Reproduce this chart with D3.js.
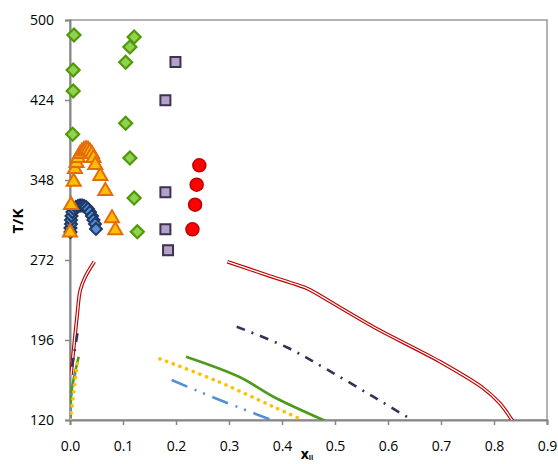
<!DOCTYPE html>
<html><head><meta charset="utf-8">
<script src="https://cdn.jsdelivr.net/npm/d3@7"></script>
<style>
html,body{margin:0;padding:0;background:#fff;}
svg text{font-family:"Open Sans","Noto Sans",sans-serif;}
</style></head>
<body>
<script>
// ---- data ----
const xTicks = [0, 0.1, 0.2, 0.3, 0.4, 0.5, 0.6, 0.7, 0.8, 0.9];
const yTicks = [120, 196, 272, 348, 424, 500];

const greenDiamonds = [[0.0075,485.8],[0.121,483.9],[0.113,474.4],[0.105,459.8],[0.006,452.5],[0.006,432.6],[0.105,401.9],[0.005,391.4],[0.113,368.9],[0.121,330.9],[0.127,298.9]];
const purpleSquares = [[0.199,460.1],[0.180,423.7],[0.180,336.3],[0.180,301.2],[0.185,281.2]];
const redCircles = [[0.244,362.0],[0.239,343.5],[0.236,324.5],[0.231,301.2]];
const orangeTriangles = [[0.000,299.0],[0.002,325.2],[0.007,347.3],[0.0094,359.4],[0.0123,365.1],[0.0151,369.9],[0.0189,373.7],[0.0226,376.0],[0.0264,377.5],[0.0302,378.1],[0.034,377.6],[0.0377,376.0],[0.0415,373.7],[0.0443,369.9],[0.0477,363.2],[0.0572,352.8],[0.0666,338.5],[0.0792,312.6],[0.0855,301.2]];
const blueDiamonds = [[0.0009,298.6],[0.0009,302.4],[0.0019,306.2],[0.0019,310.0],[0.0028,313.8],[0.0047,317.6],[0.0075,320.5],[0.0113,322.4],[0.0151,323.3],[0.0189,323.8],[0.0226,323.8],[0.0264,323.3],[0.0302,322.4],[0.034,320.5],[0.0377,317.6],[0.0415,313.8],[0.0443,310.0],[0.0472,306.2],[0.049,301.5]];

const redLine = [[0.002,163.0],[0.0132,218.1],[0.0194,243.5],[0.0289,256.1],[0.0458,270.4], null, [0.2968,270.4],[0.371,257.8],[0.447,245.1],[0.459,241.9],[0.572,208.6],[0.698,175.4],[0.780,150.1],[0.811,135.9],[0.836,118.4]];
const navyLine = [[0.0038,170.6],[0.0151,205.5], null, [0.3145,208.6],[0.4088,189.1],[0.4843,168.2],[0.5723,142.1],[0.6477,119.3]];
const greenLine = [[0.001,120],[0.0025,145.7],[0.0164,180.1], null, [0.2189,180.1],[0.3208,160.6],[0.3836,142.1],[0.4811,119.3]];
const yellowLine = [[0.0006,120],[0.0151,178.9], null, [0.1698,178.0],[0.2767,157.1],[0.3836,132.6],[0.4353,120.7]];
const blueLine = [[0.001,120],[0.0025,142.1],[0.01,164.4], null, [0.1918,158.0],[0.2767,140.2],[0.3836,119.3]];

// ---- chart ----
const W = 558, H = 464;
const L = 70, R = 547, T = 20, B = 420;
const svg = d3.select("body").append("svg").attr("width", W).attr("height", H);
const x = d3.scaleLinear().domain([0, 0.9]).range([L, R]);
const y = d3.scaleLinear().domain([120, 500]).range([B, T]);

svg.append("defs").append("clipPath").attr("id","clip")
  .append("rect").attr("x", L).attr("y", T).attr("width", R-L).attr("height", B-T);

// plot border
svg.append("rect").attr("x", L).attr("y", T).attr("width", R-L).attr("height", B-T)
  .attr("fill","none").attr("stroke","#9a9a9a").attr("stroke-width",1.5);

const xAxis = svg.append("g").attr("transform",`translate(0,${B})`)
  .call(d3.axisBottom(x).tickValues(xTicks).tickFormat(d3.format(".1f")).tickSize(5).tickPadding(16));
const yAxis = svg.append("g").attr("transform",`translate(${L},0)`)
  .call(d3.axisLeft(y).tickValues(yTicks).tickSize(5).tickPadding(11));
[xAxis, yAxis].forEach(g => {
  g.select(".domain").attr("stroke","#868686").attr("stroke-width",2);
  g.selectAll(".tick line").attr("stroke","#868686").attr("stroke-width",1.5);
  g.selectAll(".tick text").attr("fill","#000").style("font-size","14px")
   .style("font-family",'"Open Sans","Noto Sans",sans-serif');
});

// axis titles
svg.append("text").attr("transform","translate(23,221) rotate(-90)")
  .attr("text-anchor","middle").style("font-size","15px").style("font-weight","bold").text("T/K");
const xt = svg.append("text").attr("x", 307).attr("y", 459).attr("text-anchor","middle")
  .style("font-size","14px").style("font-weight","bold");
xt.append("tspan").text("x");
xt.append("tspan").attr("dy", 1).style("font-size","7px").text("II");

// lines
const line = d3.line().defined(d => d != null).x(d => x(d[0])).y(d => y(d[1])).curve(d3.curveCatmullRom);
const lg = svg.append("g").attr("clip-path","url(#clip)").attr("fill","none");
// red double line
lg.append("path").attr("d", line(redLine)).attr("stroke","#c00000").attr("stroke-width",3.6);
lg.append("path").attr("d", line(redLine)).attr("stroke","#ffffff").attr("stroke-width",1.3);
lg.append("path").attr("d", line(navyLine)).attr("stroke","#3b3156").attr("stroke-width",2.6)
  .attr("stroke-dasharray","9,7,2,7");
lg.append("path").attr("d", line(greenLine)).attr("stroke","#4e9a1c").attr("stroke-width",2.6);
lg.append("path").attr("d", line(blueLine)).attr("stroke","#558ed5").attr("stroke-width",2.6)
  .attr("stroke-dasharray","17,8,2,7,2,8");
lg.append("path").attr("d", line(yellowLine)).attr("stroke","#ffc000").attr("stroke-width",3.6)
  .attr("stroke-linecap","round").attr("stroke-dasharray","0.1,7");

// markers
const mg = svg.append("g");
function markers(data, path, fill, stroke, sw) {
  mg.append("g").selectAll("path").data(data).join("path")
    .attr("d", path).attr("transform", d => `translate(${x(d[0])},${y(d[1])})`)
    .attr("fill", fill).attr("stroke", stroke).attr("stroke-width", sw);
}
const diamond = (s) => `M0,${-s}L${s},0L0,${s}L${-s},0Z`;
markers(blueDiamonds, diamond(6), "#558ed5", "#1f3864", 2);
markers(orangeTriangles, "M0,-7L7,5L-7,5Z", "#ffc000", "#e46c0a", 2);
markers(greenDiamonds, diamond(6.5), "#92d050", "#4e9a06", 2.2);
markers(purpleSquares, "M-5,-5H5V5H-5Z", "#b3a2c7", "#3f3151", 2);
markers(redCircles, "M-6.5,0A6.5,6.5 0 1,0 6.5,0A6.5,6.5 0 1,0 -6.5,0Z", "#ff0000", "#c00000", 1.5);
</script>
</body></html>
